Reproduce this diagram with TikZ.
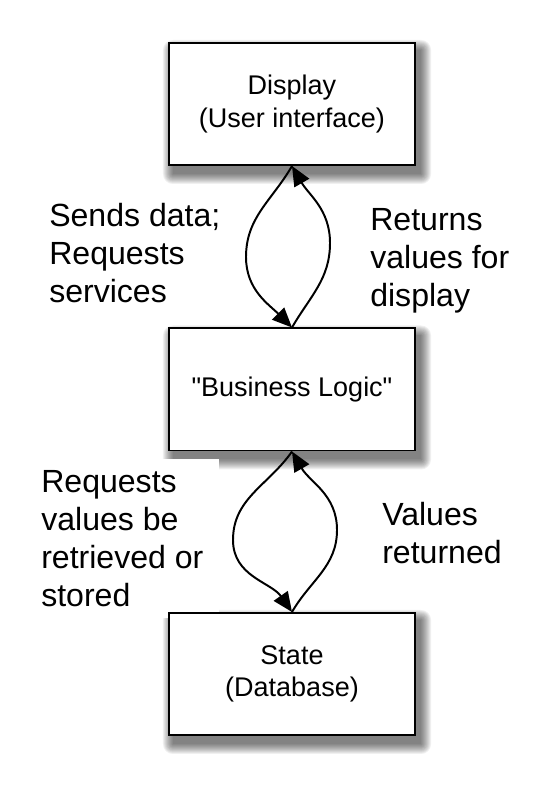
\documentclass[tikz,border=0pt]{standalone}
\usepackage{fontspec}
\setmainfont{Liberation Sans}
\usetikzlibrary{arrows.meta,backgrounds}

\begin{document}
\begin{tikzpicture}[x=0.025cm,y=0.025cm,
	box/.style={draw,line width=1.4pt,fill=white,minimum width=6.15cm,minimum height=3.05cm,align=center,
		font=\fontsize{19.2pt}{22.8pt}\selectfont},
	lbl/.style={anchor=north west,inner sep=0pt,align=left,font=\fontsize{22.8pt}{27pt}\selectfont},
	flow/.style={line width=1.4pt,-{Triangle[length=14pt,width=12pt]}}]
		\useasboundingbox (0,0) rectangle (554,800);
		\node[box] (disp) at (292,696) {Display\\(User interface)};
		\node[box] (logic) at (292,410.5) {\textquotedbl Business Logic\textquotedbl};
		\node[lbl,fill=white,inner xsep=0.4cm,inner ysep=0.275cm] (req) at (25,341) {Requests\\values be\\retrieved or\\stored};
		\node[box] (state) at (292,126) {State\\(Database)};
		\begin{pgfonlayer}{background}
			\foreach \n in {disp,logic,state}
				\foreach \e in {0,...,10}
					\fill[black,opacity=0.06,rounded corners=\e*0.7pt]
						([shift={(5-\e,-8-\e)}]\n.south west) rectangle ([shift={(5+\e,-8+\e)}]\n.north east);
		\end{pgfonlayer}
		\coordinate (ul) at (246,543);
		\coordinate (ur) at (330,557);
		\coordinate (ll) at (233,260);
		\coordinate (lr) at (337,270);
		\draw[flow] (disp.south) to[out=240,in=90] (ul) to[out=-90,in=135] (logic.north);
		\draw[flow] (logic.north) to[out=60,in=-90] (ur) to[out=90,in=-60] (disp.south);
		\draw[flow] (logic.south) to[out=235,in=90] (ll) to[out=-90,in=125] (state.north);
		\draw[flow] (state.north) to[out=60,in=-90] (lr) to[out=90,in=-60] (logic.south);
		\node[lbl] (send) at (49,597) {Sends data;\\Requests\\services};
		\node[lbl] (ret) at (370,592) {Returns\\values for\\display};
		\node[lbl] (vals) at (382,298) {Values\\returned};
\end{tikzpicture}
\end{document}
